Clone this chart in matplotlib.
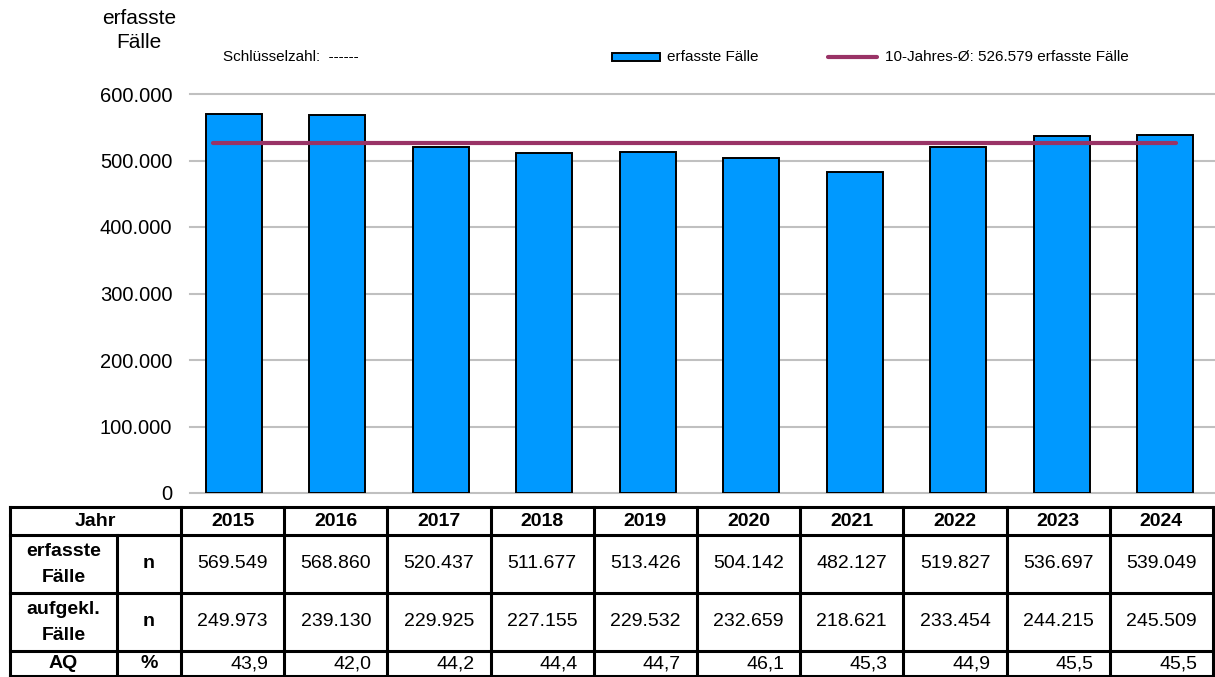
import matplotlib
matplotlib.use("Agg")
import matplotlib.pyplot as plt
from matplotlib.patches import Rectangle
from matplotlib.lines import Line2D

plt.rcParams['font.family'] = ['Liberation Sans', 'DejaVu Sans']

years = ['2015', '2016', '2017', '2018', '2019', '2020', '2021', '2022', '2023', '2024']
erfasst = [569549, 568860, 520437, 511677, 513426, 504142, 482127, 519827, 536697, 539049]
aufgekl = [249973, 239130, 229925, 227155, 229532, 232659, 218621, 233454, 244215, 245509]
aq = ['43,9', '42,0', '44,2', '44,4', '44,7', '46,1', '45,3', '44,9', '45,5', '45,5']
avg = 526579
yticks = [0, 100000, 200000, 300000, 400000, 500000, 600000]

def de(n):
    return f"{n:,}".replace(",", ".")

BLUE = '#0099FF'
MAROON = '#993366'
W, H = 1215, 677
fig = plt.figure(figsize=(W / 100, H / 100), dpi=100)

# main axes
l, r, t, b = 182, 1217, 94, 493
ax = fig.add_axes([l / W, 1 - b / H, (r - l) / W, (b - t) / H])
x = list(range(len(years)))
ax.bar(x, erfasst, width=0.54, color=BLUE, edgecolor='black', linewidth=1.4, zorder=3)
ax.plot([x[0] - 0.2, x[-1] + 0.1], [avg, avg], color=MAROON, linewidth=3, zorder=4,
        solid_capstyle='round')
ax.set_xlim(-0.5, len(years) - 0.5)
ax.set_ylim(0, 600000)
ax.set_yticks(yticks)
ax.set_yticklabels([de(v) for v in yticks], fontsize=14.5)
ax.tick_params(axis='y', length=0, pad=7)
ax.set_xticks([])
for s in ax.spines.values():
    s.set_visible(False)
for v in yticks:
    ax.axhline(v, color='#C0C0C0', linewidth=1.5, zorder=1, xmin=8 / (r - l), xmax=1, clip_on=False)

# overlay axes in pixel coords
ov = fig.add_axes([0, 0, 1, 1])
ov.set_xlim(0, W)
ov.set_ylim(H, 0)
ov.axis('off')

ov.text(139, 19, 'erfasste', fontsize=15, ha='center', va='center')
ov.text(139, 43, 'Fälle', fontsize=15, ha='center', va='center')
ov.text(223, 57, 'Schlüsselzahl:  ------', fontsize=11, ha='left', va='center')

# legend
ov.add_patch(Rectangle((612, 53), 48, 8, facecolor=BLUE, edgecolor='black', linewidth=1.4))
ov.text(667, 57, 'erfasste Fälle', fontsize=11, ha='left', va='center')
ov.add_line(Line2D([828, 877], [56.5, 56.5], color=MAROON, linewidth=3, solid_capstyle='round'))
ov.text(885, 57, '10-Jahres-Ø: ' + de(avg) + ' erfasste Fälle', fontsize=11, ha='left', va='center')

# table
tl, tr = 10, 1213
c1, c2 = 117, 181
rows = [507, 535, 593, 651, 676]
colw = (tr - c2) / len(years)
lw = 2.2
for yv in rows:
    ov.add_line(Line2D([tl, tr], [yv, yv], color='black', linewidth=lw))
ov.add_line(Line2D([tl, tl], [rows[0], rows[-1]], color='black', linewidth=lw))
ov.add_line(Line2D([c1, c1], [rows[1], rows[-1]], color='black', linewidth=lw))
for i in range(len(years) + 1):
    xv = c2 + i * colw
    ov.add_line(Line2D([xv, xv], [rows[0], rows[-1]], color='black', linewidth=lw))

fs = 14
ov.text((tl + c2) / 2, (rows[0] + rows[1]) / 2, 'Jahr', fontsize=fs, fontweight='bold', ha='center', va='center')
ov.text((tl + c1) / 2, 552, 'erfasste', fontsize=fs, fontweight='bold', ha='center', va='center')
ov.text((tl + c1) / 2, 577, 'Fälle', fontsize=fs, fontweight='bold', ha='center', va='center')
ov.text((tl + c1) / 2, 610, 'aufgekl.', fontsize=fs, fontweight='bold', ha='center', va='center')
ov.text((tl + c1) / 2, 635, 'Fälle', fontsize=fs, fontweight='bold', ha='center', va='center')
ov.text((tl + c1) / 2, 664, 'AQ', fontsize=fs, fontweight='bold', ha='center', va='center')
for yc, lab in [(564, 'n'), (622, 'n'), (664, '%')]:
    ov.text((c1 + c2) / 2, yc, lab, fontsize=fs, fontweight='bold', ha='center', va='center')

for i, yr in enumerate(years):
    cx = c2 + (i + 0.5) * colw
    ov.text(cx, 521, yr, fontsize=fs, fontweight='bold', ha='center', va='center')
    ov.text(cx, 564, de(erfasst[i]), fontsize=fs, ha='center', va='center')
    ov.text(cx, 622, de(aufgekl[i]), fontsize=fs, ha='center', va='center')
    ov.text(c2 + (i + 1) * colw - 16, 664, aq[i], fontsize=fs, ha='right', va='center')

fig.savefig('out.png', dpi=100)
